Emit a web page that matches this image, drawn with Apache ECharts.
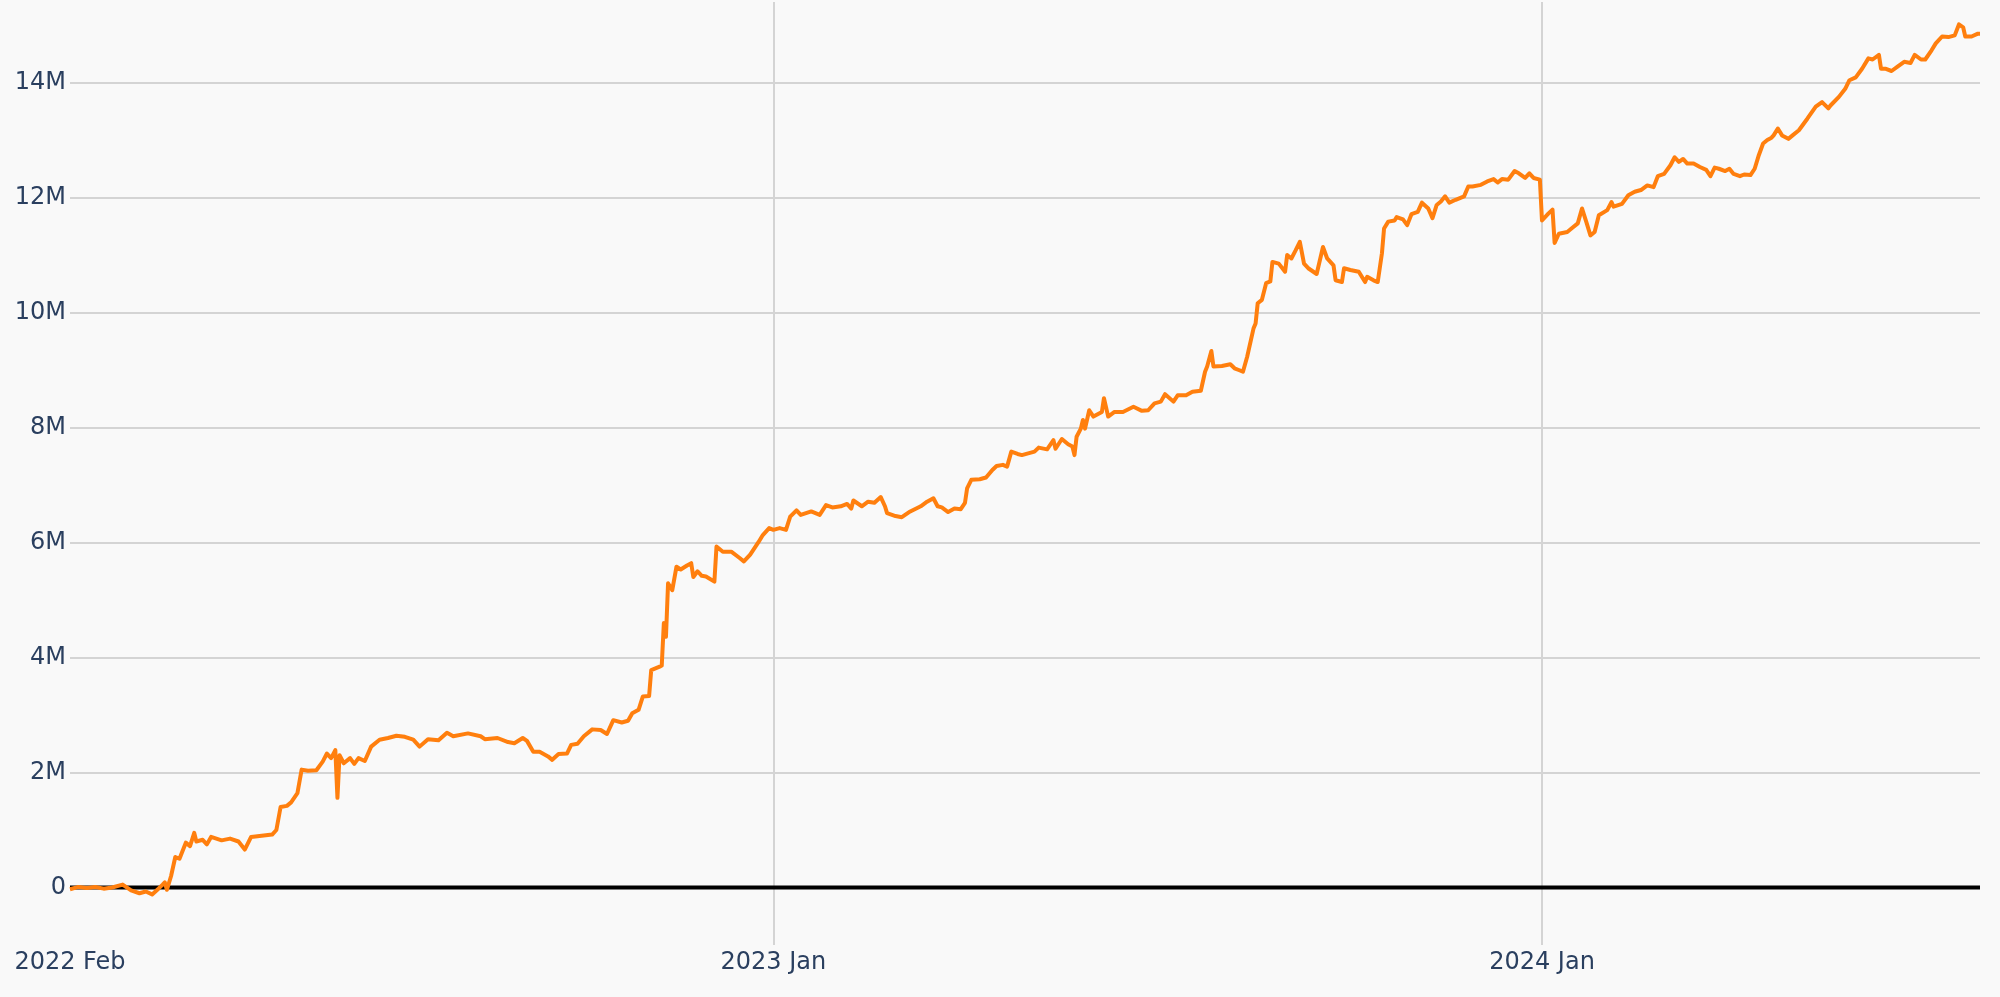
<!DOCTYPE html>
<html>
<head>
<meta charset="utf-8">
<script src="https://cdn.jsdelivr.net/npm/echarts@6/dist/echarts.min.js"></script>
<style>
  html, body { margin: 0; padding: 0; background: #f9f9f9; }
  #chart { width: 2000px; height: 997px; }
</style>
</head>
<body>
<div id="chart"></div>
<script>
// x tick positions and labels
const xTicks = ['2022-02-01', '2023-01-01', '2024-01-01'];
const xTickLabels = ['2022 Feb', '2023 Jan', '2024 Jan'];
// y tick values (millions)
const yTicks = [0, 2, 4, 6, 8, 10, 12, 14];

// cumulative value, in millions
const equityCurve = [
  ['2022-02-01', -0.03], ['2022-02-05', 0.01], ['2022-02-09', -0.01], ['2022-02-13', 0.01],
  ['2022-02-17', -0.02], ['2022-02-21', 0.00], ['2022-02-26', 0.05], ['2022-03-02', -0.05],
  ['2022-03-06', -0.10], ['2022-03-09', -0.07], ['2022-03-12', -0.12], ['2022-03-15', -0.02],
  ['2022-03-17', 0.05], ['2022-03-18', 0.09], ['2022-03-19', -0.04], ['2022-03-21', 0.20],
  ['2022-03-23', 0.53], ['2022-03-25', 0.50], ['2022-03-28', 0.78], ['2022-03-30', 0.72],
  ['2022-04-01', 0.95], ['2022-04-02', 0.80], ['2022-04-05', 0.83], ['2022-04-07', 0.75],
  ['2022-04-09', 0.88], ['2022-04-14', 0.82], ['2022-04-18', 0.85], ['2022-04-22', 0.80],
  ['2022-04-25', 0.66], ['2022-04-28', 0.88], ['2022-05-03', 0.90], ['2022-05-08', 0.92],
  ['2022-05-10', 1.00], ['2022-05-12', 1.40], ['2022-05-15', 1.42], ['2022-05-17', 1.48],
  ['2022-05-20', 1.64], ['2022-05-22', 2.05], ['2022-05-25', 2.03], ['2022-05-29', 2.04],
  ['2022-06-01', 2.19], ['2022-06-03', 2.33], ['2022-06-05', 2.25], ['2022-06-07', 2.39],
  ['2022-06-08', 1.56], ['2022-06-09', 2.30], ['2022-06-11', 2.16], ['2022-06-14', 2.25],
  ['2022-06-16', 2.15], ['2022-06-18', 2.25], ['2022-06-21', 2.20], ['2022-06-24', 2.45],
  ['2022-06-28', 2.57], ['2022-07-02', 2.60], ['2022-07-06', 2.64], ['2022-07-10', 2.62],
  ['2022-07-14', 2.57], ['2022-07-17', 2.45], ['2022-07-21', 2.58], ['2022-07-26', 2.56],
  ['2022-07-30', 2.69], ['2022-08-02', 2.63], ['2022-08-09', 2.68], ['2022-08-15', 2.63],
  ['2022-08-17', 2.58], ['2022-08-23', 2.60], ['2022-08-28', 2.53], ['2022-08-31', 2.51],
  ['2022-09-04', 2.60], ['2022-09-06', 2.55], ['2022-09-09', 2.36], ['2022-09-12', 2.36],
  ['2022-09-16', 2.28], ['2022-09-18', 2.22], ['2022-09-21', 2.32], ['2022-09-25', 2.33],
  ['2022-09-27', 2.48], ['2022-09-30', 2.50], ['2022-10-03', 2.63], ['2022-10-07', 2.75],
  ['2022-10-11', 2.74], ['2022-10-14', 2.67], ['2022-10-17', 2.91], ['2022-10-21', 2.87],
  ['2022-10-24', 2.90], ['2022-10-26', 3.03], ['2022-10-29', 3.09], ['2022-10-31', 3.32],
  ['2022-11-03', 3.33], ['2022-11-04', 3.78], ['2022-11-08', 3.84], ['2022-11-09', 3.86],
  ['2022-11-10', 4.60], ['2022-11-11', 4.36], ['2022-11-12', 5.29], ['2022-11-14', 5.17],
  ['2022-11-16', 5.58], ['2022-11-18', 5.53], ['2022-11-21', 5.60], ['2022-11-23', 5.64],
  ['2022-11-24', 5.40], ['2022-11-26', 5.50], ['2022-11-28', 5.42], ['2022-11-30', 5.41],
  ['2022-12-04', 5.32], ['2022-12-05', 5.93], ['2022-12-08', 5.84], ['2022-12-12', 5.84],
  ['2022-12-16', 5.73], ['2022-12-18', 5.67], ['2022-12-21', 5.79], ['2022-12-25', 6.01],
  ['2022-12-27', 6.13], ['2022-12-30', 6.25], ['2023-01-01', 6.22], ['2023-01-04', 6.25],
  ['2023-01-07', 6.22], ['2023-01-09', 6.45], ['2023-01-12', 6.56], ['2023-01-14', 6.48],
  ['2023-01-19', 6.54], ['2023-01-23', 6.48], ['2023-01-26', 6.65], ['2023-01-29', 6.61],
  ['2023-02-02', 6.63], ['2023-02-05', 6.67], ['2023-02-07', 6.59], ['2023-02-08', 6.73],
  ['2023-02-12', 6.63], ['2023-02-15', 6.71], ['2023-02-18', 6.69], ['2023-02-21', 6.79],
  ['2023-02-23', 6.63], ['2023-02-24', 6.51], ['2023-02-28', 6.46], ['2023-03-03', 6.44],
  ['2023-03-07', 6.54], ['2023-03-12', 6.63], ['2023-03-15', 6.71], ['2023-03-18', 6.77],
  ['2023-03-20', 6.63], ['2023-03-22', 6.61], ['2023-03-25', 6.53], ['2023-03-28', 6.59],
  ['2023-03-31', 6.58], ['2023-04-02', 6.69], ['2023-04-03', 6.94], ['2023-04-05', 7.09],
  ['2023-04-09', 7.10], ['2023-04-12', 7.13], ['2023-04-15', 7.26], ['2023-04-17', 7.33],
  ['2023-04-20', 7.35], ['2023-04-22', 7.32], ['2023-04-24', 7.58], ['2023-04-27', 7.54],
  ['2023-04-29', 7.52], ['2023-05-02', 7.55], ['2023-05-05', 7.58], ['2023-05-07', 7.65],
  ['2023-05-11', 7.62], ['2023-05-14', 7.78], ['2023-05-15', 7.63], ['2023-05-18', 7.80],
  ['2023-05-21', 7.71], ['2023-05-23', 7.67], ['2023-05-24', 7.52], ['2023-05-25', 7.84],
  ['2023-05-27', 7.98], ['2023-05-28', 8.13], ['2023-05-29', 7.98], ['2023-05-31', 8.30],
  ['2023-06-02', 8.19], ['2023-06-06', 8.27], ['2023-06-07', 8.51], ['2023-06-09', 8.19],
  ['2023-06-12', 8.27], ['2023-06-16', 8.27], ['2023-06-21', 8.36], ['2023-06-25', 8.29],
  ['2023-06-28', 8.30], ['2023-07-01', 8.42], ['2023-07-04', 8.45], ['2023-07-06', 8.58],
  ['2023-07-10', 8.45], ['2023-07-12', 8.56], ['2023-07-16', 8.56], ['2023-07-19', 8.62],
  ['2023-07-23', 8.64], ['2023-07-25', 8.97], ['2023-07-26', 9.06], ['2023-07-28', 9.33],
  ['2023-07-29', 9.06], ['2023-08-02', 9.07], ['2023-08-06', 9.10], ['2023-08-08', 9.03],
  ['2023-08-10', 9.00], ['2023-08-12', 8.97], ['2023-08-14', 9.23], ['2023-08-17', 9.72],
  ['2023-08-18', 9.81], ['2023-08-19', 10.16], ['2023-08-21', 10.22], ['2023-08-23', 10.51],
  ['2023-08-25', 10.54], ['2023-08-26', 10.88], ['2023-08-29', 10.85], ['2023-09-01', 10.71],
  ['2023-09-02', 11.00], ['2023-09-04', 10.94], ['2023-09-06', 11.08], ['2023-09-08', 11.23],
  ['2023-09-10', 10.85], ['2023-09-12', 10.77], ['2023-09-16', 10.67], ['2023-09-19', 11.14],
  ['2023-09-21', 10.94], ['2023-09-24', 10.82], ['2023-09-25', 10.56], ['2023-09-28', 10.53],
  ['2023-09-29', 10.77], ['2023-10-02', 10.74], ['2023-10-06', 10.71], ['2023-10-09', 10.53],
  ['2023-10-10', 10.62], ['2023-10-13', 10.56], ['2023-10-15', 10.53], ['2023-10-17', 11.03],
  ['2023-10-18', 11.46], ['2023-10-20', 11.58], ['2023-10-23', 11.60], ['2023-10-24', 11.66],
  ['2023-10-27', 11.62], ['2023-10-29', 11.52], ['2023-10-31', 11.71], ['2023-11-03', 11.75],
  ['2023-11-05', 11.91], ['2023-11-08', 11.81], ['2023-11-10', 11.64], ['2023-11-12', 11.87],
  ['2023-11-14', 11.93], ['2023-11-16', 12.02], ['2023-11-18', 11.91], ['2023-11-21', 11.96],
  ['2023-11-25', 12.02], ['2023-11-27', 12.19], ['2023-11-29', 12.19], ['2023-12-03', 12.22],
  ['2023-12-06', 12.28], ['2023-12-09', 12.32], ['2023-12-11', 12.26], ['2023-12-13', 12.32],
  ['2023-12-16', 12.31], ['2023-12-19', 12.46], ['2023-12-21', 12.42], ['2023-12-24', 12.34],
  ['2023-12-26', 12.42], ['2023-12-28', 12.34], ['2023-12-31', 12.31], ['2024-01-01', 11.60],
  ['2024-01-04', 11.72], ['2024-01-06', 11.79], ['2024-01-07', 11.21], ['2024-01-09', 11.37],
  ['2024-01-13', 11.40], ['2024-01-15', 11.46], ['2024-01-18', 11.55], ['2024-01-20', 11.81],
  ['2024-01-22', 11.58], ['2024-01-24', 11.34], ['2024-01-26', 11.40], ['2024-01-28', 11.69],
  ['2024-02-01', 11.78], ['2024-02-03', 11.92], ['2024-02-04', 11.84], ['2024-02-08', 11.89],
  ['2024-02-11', 12.04], ['2024-02-14', 12.10], ['2024-02-17', 12.13], ['2024-02-20', 12.21],
  ['2024-02-23', 12.18], ['2024-02-25', 12.37], ['2024-02-28', 12.41], ['2024-03-02', 12.56],
  ['2024-03-04', 12.70], ['2024-03-06', 12.62], ['2024-03-08', 12.67], ['2024-03-10', 12.59],
  ['2024-03-13', 12.59], ['2024-03-16', 12.53], ['2024-03-19', 12.48], ['2024-03-21', 12.37],
  ['2024-03-23', 12.52], ['2024-03-25', 12.50], ['2024-03-28', 12.46], ['2024-03-30', 12.50],
  ['2024-04-01', 12.41], ['2024-04-04', 12.37], ['2024-04-06', 12.40], ['2024-04-09', 12.39],
  ['2024-04-11', 12.50], ['2024-04-13', 12.74], ['2024-04-15', 12.94], ['2024-04-17', 13.00],
  ['2024-04-19', 13.04], ['2024-04-20', 13.08], ['2024-04-22', 13.20], ['2024-04-24', 13.08],
  ['2024-04-27', 13.02], ['2024-04-29', 13.08], ['2024-05-02', 13.17], ['2024-05-06', 13.37],
  ['2024-05-10', 13.58], ['2024-05-13', 13.66], ['2024-05-16', 13.55], ['2024-05-17', 13.60],
  ['2024-05-21', 13.75], ['2024-05-24', 13.89], ['2024-05-26', 14.04], ['2024-05-29', 14.09],
  ['2024-06-01', 14.24], ['2024-06-04', 14.42], ['2024-06-06', 14.40], ['2024-06-09', 14.48],
  ['2024-06-10', 14.24], ['2024-06-12', 14.24], ['2024-06-15', 14.20], ['2024-06-18', 14.28],
  ['2024-06-21', 14.36], ['2024-06-24', 14.34], ['2024-06-26', 14.48], ['2024-06-29', 14.40],
  ['2024-07-01', 14.40], ['2024-07-04', 14.56], ['2024-07-06', 14.68], ['2024-07-09', 14.80],
  ['2024-07-12', 14.79], ['2024-07-15', 14.82], ['2024-07-17', 15.01], ['2024-07-19', 14.96],
  ['2024-07-20', 14.80], ['2024-07-23', 14.80], ['2024-07-26', 14.85], ['2024-07-27', 14.85]
];

const FONT = '"DejaVu Sans", Verdana, sans-serif';
const TEXT_COLOR = '#2a3f5f';

function parseDay(s) {
  const p = s.split('-').map(Number);
  return Date.UTC(p[0], p[1] - 1, p[2]);
}
const xTickTimes = xTicks.map(parseDay);
const seriesData = equityCurve.map(d => [parseDay(d[0]), d[1]]);
const xStart = seriesData[0][0];
const xEnd = seriesData[seriesData.length - 1][0];
const zeroLine = [[xStart, 0], [xEnd, 0]];

const chart = echarts.init(document.getElementById('chart'), null, { renderer: 'canvas' });
chart.setOption({
  animation: false,
  backgroundColor: '#f9f9f9',
  grid: { left: 70, right: 20, top: 2, bottom: 52, containLabel: false },
  xAxis: {
    type: 'value',
    min: xStart,
    max: xEnd,
    scale: true,
    axisLine: { show: false },
    axisTick: { show: false, customValues: xTickTimes },
    axisLabel: {
      customValues: xTickTimes,
      showMinLabel: true,
      showMaxLabel: true,
      margin: 6,
      color: TEXT_COLOR,
      fontFamily: FONT,
      fontSize: 24,
      formatter: function (v) {
        let best = 0, bd = Infinity;
        xTickTimes.forEach((t, i) => { const d = Math.abs(t - v); if (d < bd) { bd = d; best = i; } });
        return xTickLabels[best];
      }
    },
    splitLine: { show: true, showMinLine: false, lineStyle: { color: '#d4d4d4', width: 2 } }
  },
  yAxis: {
    type: 'value',
    min: -1,
    max: 15.4,
    axisLine: { show: false },
    axisTick: { show: false, customValues: yTicks },
    axisLabel: {
      customValues: yTicks,
      margin: 4,
      color: TEXT_COLOR,
      fontFamily: FONT,
      fontSize: 24,
      formatter: v => (v === 0 ? '0' : v + 'M')
    },
    splitLine: { show: true, lineStyle: { color: '#d4d4d4', width: 2 } }
  },
  series: [
    {
      name: 'zero',
      type: 'line',
      data: zeroLine,
      showSymbol: false,
      silent: true,
      z: 1,
      lineStyle: { color: '#000000', width: 4 }
    },
    {
      name: 'equity',
      type: 'line',
      data: seriesData,
      showSymbol: false,
      silent: true,
      z: 3,
      lineStyle: { color: '#ff7f0e', width: 4, join: 'round' }
    }
  ]
});
</script>
</body>
</html>
